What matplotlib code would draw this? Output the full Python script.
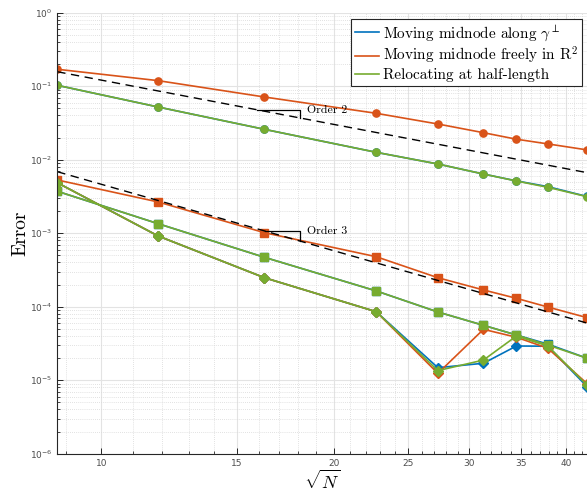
import numpy as np
import matplotlib
matplotlib.use("Agg")
import matplotlib.pyplot as plt
from matplotlib.font_manager import FontProperties
from matplotlib.ticker import FixedLocator, FixedFormatter, NullFormatter, LogLocator

# sqrt(N) of the meshes
sqrt_n = [8.77, 11.85, 16.27, 22.71, 27.30, 31.28, 34.51, 37.90, 42.60]

# moving midnode along gamma^perp (blue)
blue_circ = [0.1028, 0.0521, 0.0259, 0.01261, 0.00874, 0.00638, 0.00515, 0.00430, 0.00316]
blue_sq = [0.00372, 0.001346, 4.70e-4, 1.64e-4, 8.47e-5, 5.58e-5, 4.12e-5, 3.10e-5, 1.99e-5]
blue_dia = [0.00486, 9.16e-4, 2.48e-4, 8.55e-5, 1.48e-5, 1.70e-5, 2.92e-5, 2.90e-5, 8.2e-6]

# moving midnode freely in R^2 (orange)
orange_circ = [0.170, 0.119, 0.0713, 0.0428, 0.0306, 0.0233, 0.0190, 0.0164, 0.0136]
orange_sq = [0.00530, 0.00266, 0.001016, 4.79e-4, 2.48e-4, 1.69e-4, 1.30e-4, 9.9e-5, 7.1e-5]
orange_dia = [0.00486, 9.16e-4, 2.48e-4, 8.55e-5, 1.24e-5, 4.92e-5, 3.84e-5, 2.72e-5, 9.0e-6]

# relocating at half-length (green)
green_circ = [0.1028, 0.0521, 0.0259, 0.01261, 0.00874, 0.00638, 0.00513, 0.00421, 0.00314]
green_sq = [0.00372, 0.001346, 4.70e-4, 1.64e-4, 8.47e-5, 5.58e-5, 4.12e-5, 3.01e-5, 1.99e-5]
green_dia = [0.00486, 9.16e-4, 2.48e-4, 8.55e-5, 1.35e-5, 1.88e-5, 3.99e-5, 2.92e-5, 8.6e-6]

# reference slopes C*x^-p
ref2 = (12.1, 2)
ref3 = (4.63, 3)

labels = [r"Moving midnode along $\gamma^{\perp}$",
          r"Moving midnode freely in $\mathrm{R}^2$",
          "Relocating at half-length"]

c_blue, c_orange, c_green = "#0072BD", "#D95319", "#77AC30"
axcol = "#262626"
tickcol = "#4d4d4d"

fig = plt.figure(figsize=(5.87, 4.93), dpi=100)
ax = fig.add_axes([57.3/587, (493-453.7)/493, (587-57.3)/587, (453.7-12.7)/493])
ax.set_xscale("log")
ax.set_yscale("log")

x = np.array(sqrt_n)
series = [(c_blue, blue_circ, blue_sq, blue_dia),
          (c_orange, orange_circ, orange_sq, orange_dia),
          (c_green, green_circ, green_sq, green_dia)]
handles = []
for col, yc, ys, yd in series:
    h, = ax.plot(x, yc, "-o", color=col, lw=1.2, ms=5.2)
    ax.plot(x, ys, "-s", color=col, lw=1.2, ms=5.5)
    ax.plot(x, yd, "-D", color=col, lw=1.2, ms=5)
    handles.append(h)

xr = np.array([sqrt_n[0], sqrt_n[-1]])
cm_txt = FontProperties(family="cmr10", size=8.5, math_fontfamily="cm")
for (C, p), (x1, x2), name in [(ref2, (15.9, 18.1), "Order 2"), (ref3, (16.3, 18.1), "Order 3")]:
    ax.plot(xr, C*xr**(-p), "--", color="k", lw=1.0, dashes=(6, 4))
    y1, y2 = C*x1**(-p), C*x2**(-p)
    ax.plot([x1, x2, x2], [y1, y1, y2], "-", color="k", lw=0.9)
    ax.text(x2*1.02, y1*0.98, name, fontproperties=cm_txt, va="center", ha="left")

ax.set_xlim(sqrt_n[0], sqrt_n[-1])
ax.set_ylim(1e-6, 1)

xmaj = [10, 15, 20, 25, 30, 35, 40]
ax.xaxis.set_major_locator(FixedLocator(xmaj))
ax.xaxis.set_major_formatter(FixedFormatter([str(v) for v in xmaj]))
ax.xaxis.set_minor_locator(FixedLocator([v for v in range(9, 43) if v not in xmaj]))
ax.xaxis.set_minor_formatter(NullFormatter())
ax.yaxis.set_major_locator(LogLocator(base=10, numticks=10))
ax.yaxis.set_minor_locator(LogLocator(base=10, subs=np.arange(2, 10), numticks=20))
ax.yaxis.set_minor_formatter(NullFormatter())

ax.tick_params(which="both", direction="in", colors=axcol, labelcolor=tickcol, labelsize=6.5)
ax.tick_params(which="major", length=4, width=0.7)
ax.tick_params(which="minor", length=2.2, width=0.6)
ax.tick_params(axis="x", pad=4)
ax.grid(which="major", color="#e3e3e3", lw=0.8, ls="-")
ax.grid(which="minor", color="#d8d8d8", lw=0.6, ls=(0, (1, 1.5)))
ax.set_axisbelow(True)
for s in ["top", "right"]:
    ax.spines[s].set_visible(False)
for s in ["left", "bottom"]:
    ax.spines[s].set_color(axcol)
    ax.spines[s].set_linewidth(0.8)

lab_fp = FontProperties(family="cmr10", size=14, math_fontfamily="cm")
ax.set_xlabel(r"$\sqrt{N}$", fontproperties=lab_fp, fontsize=13)
ax.xaxis.set_label_coords(0.5, -0.034)
ax.set_ylabel("Error", fontproperties=lab_fp)
ax.yaxis.set_label_coords(-0.053, 0.5)

leg_fp = FontProperties(family="cmr10", size=11, math_fontfamily="cm")
leg = ax.legend(handles, labels, prop=leg_fp, loc="upper right",
                bbox_to_anchor=(582/587, 1-19/493), bbox_transform=fig.transFigure,
                borderaxespad=0, fancybox=False, framealpha=1, handlelength=1.6,
                handletextpad=0.25, labelspacing=0.15, borderpad=0.25)
for h in leg.legend_handles:
    h.set_marker("")
leg.get_frame().set_edgecolor(axcol)
leg.get_frame().set_linewidth(0.8)

fig.savefig("out.png", dpi=100)
